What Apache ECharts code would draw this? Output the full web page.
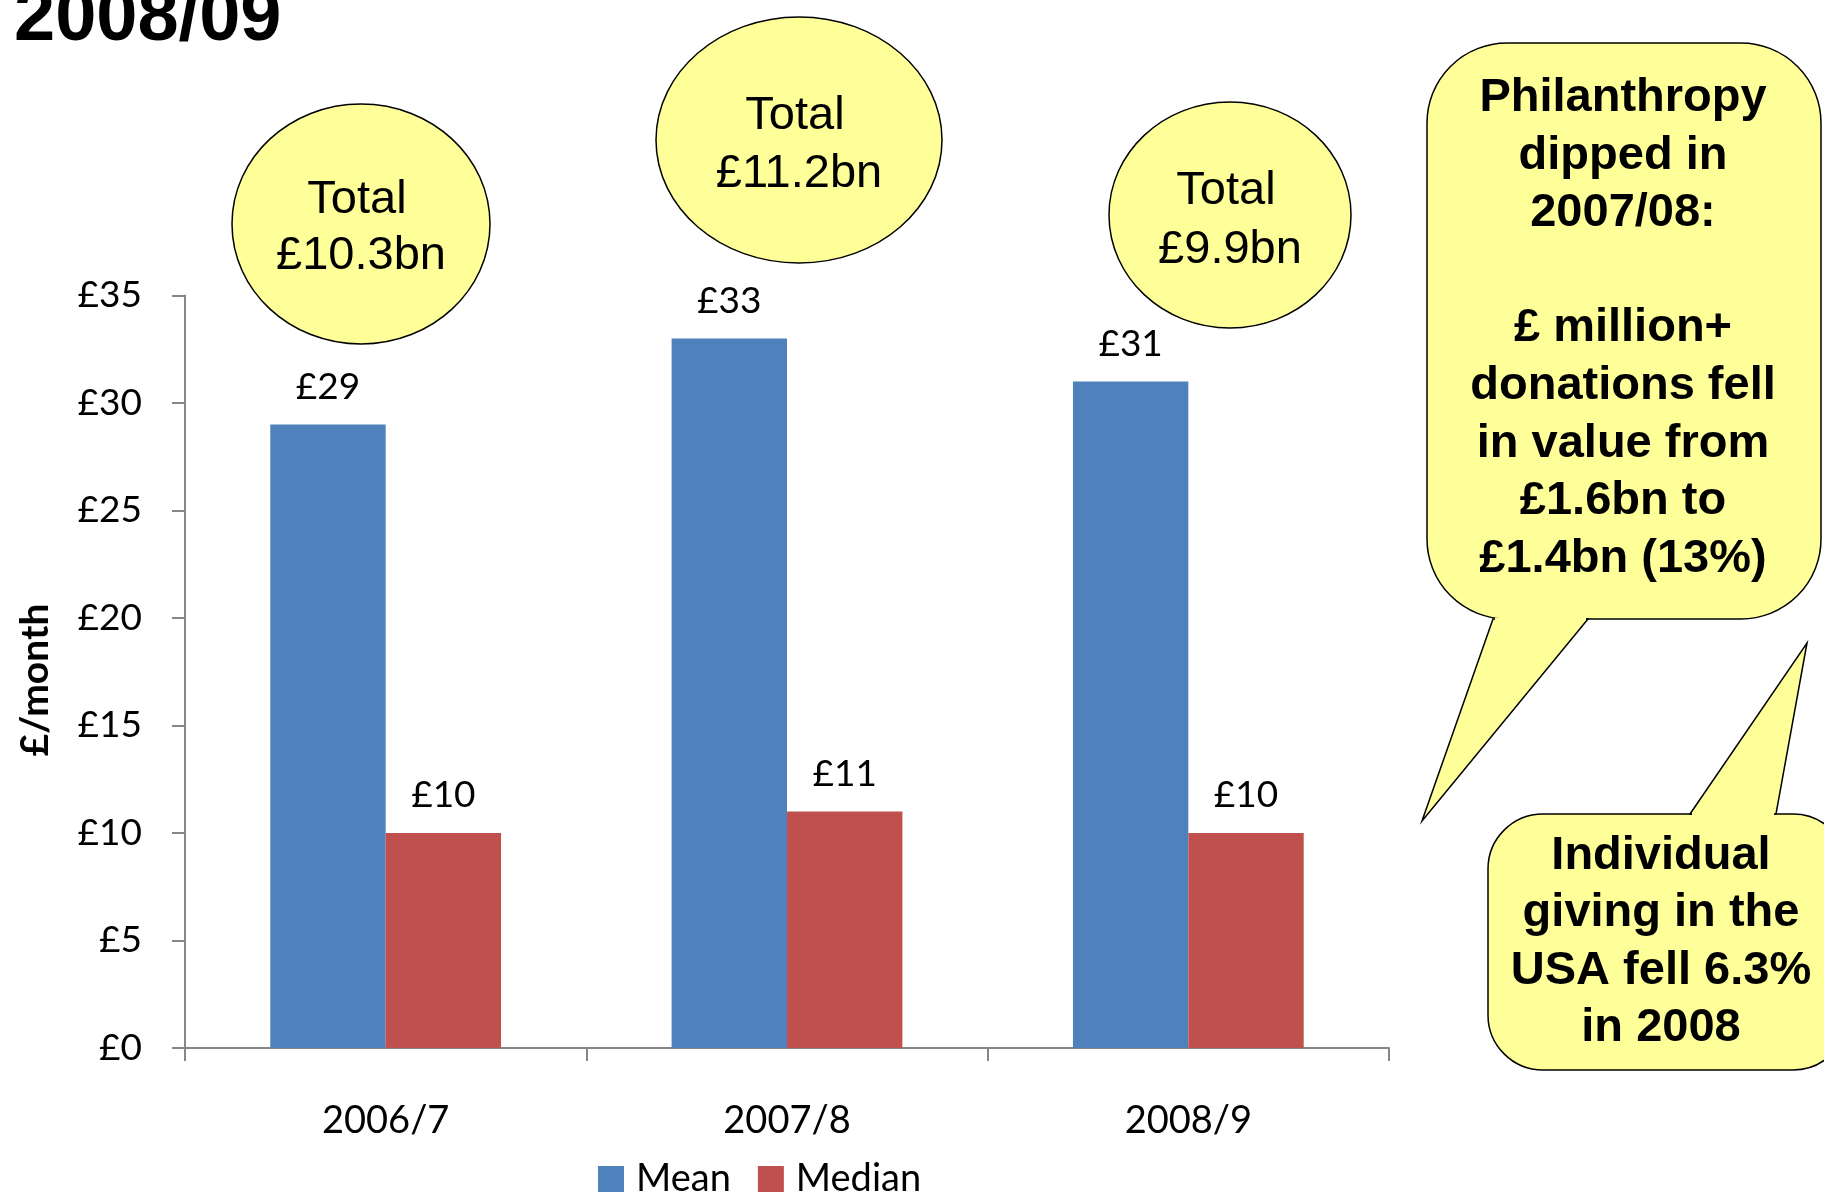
<!DOCTYPE html>
<html><head><meta charset="utf-8">
<script src="https://cdn.jsdelivr.net/npm/echarts@6/dist/echarts.min.js"></script>
<style>html,body{margin:0;padding:0;background:#fff}#c{width:1824px;height:1194px}</style>
</head><body><div id="c"></div>
<script>
const categories = ['2006/7', '2007/8', '2008/9'];
const meanValues = [29, 33, 31];
const medianValues = [10, 11, 10];
const totals = ['£10.3bn', '£11.2bn', '£9.9bn'];
const seriesNames = ['Mean', 'Median'];
const titleText = '2008/09';
const yAxisName = '£/month';
const callout1Lines = ['Philanthropy', 'dipped in', '2007/08:', '', '£ million+', 'donations fell', 'in value from', '£1.6bn to', '£1.4bn (13%)'];
const callout2Lines = ['Individual', 'giving in the', 'USA fell 6.3%', 'in 2008'];

const chart = echarts.init(document.getElementById('c'), null, {renderer: 'canvas'});
const yellow = '#FFFF99';
const ovals = [
  {cx: 361, cy: 224, rx: 129, ry: 120, ty: [200, 256]},
  {cx: 799, cy: 140, rx: 143, ry: 123, ty: [116, 174]},
  {cx: 1230, cy: 215, rx: 121, ry: 113, ty: [191, 250]}
];
const graphics = [];
graphics.push({type: 'text', x: 14, y: 20, style: {text: titleText, font: 'bold 74px "Liberation Sans", Arial', fill: '#000', textAlign: 'left', textVerticalAlign: 'middle'}});
graphics.push({type: 'text', x: 35, y: 680, rotation: Math.PI/2, style: {text: yAxisName, font: 'bold 39px Lato, "Noto Sans"', fill: '#000', textAlign: 'center', textVerticalAlign: 'middle'}});
ovals.forEach((o, i) => {
  graphics.push({type: 'ellipse', shape: {cx: o.cx, cy: o.cy, rx: o.rx, ry: o.ry}, style: {fill: yellow, stroke: '#000', lineWidth: 1.5}, z: 10});
  graphics.push({type: 'text', x: o.cx - 4, y: o.ty[0], z: 11, style: {text: 'Total', font: '47px "Liberation Sans", Arial', fill: '#000', textAlign: 'center', textVerticalAlign: 'middle'}});
  graphics.push({type: 'text', x: o.cx, y: o.ty[1], z: 11, style: {text: totals[i], font: '47px "Liberation Sans", Arial', fill: '#000', textAlign: 'center', textVerticalAlign: 'middle'}});
});
// callout 1: body + tail
graphics.push({type: 'rect', shape: {x: 1427, y: 43, width: 394, height: 576, r: 80}, style: {fill: yellow, stroke: '#000', lineWidth: 1.5}, z: 10});
graphics.push({type: 'polygon', shape: {points: [[1588, 619], [1422, 821], [1493, 619]]}, style: {fill: yellow, stroke: '#000', lineWidth: 1.5}, z: 11});
graphics.push({type: 'line', shape: {x1: 1495, y1: 619, x2: 1586, y2: 619}, style: {stroke: yellow, lineWidth: 3}, z: 12});
callout1Lines.forEach((t, i) => {
  graphics.push({type: 'text', x: 1623, y: 98 + i * 57.6, z: 13, style: {text: t, font: 'bold 47px "Liberation Sans", Arial', fill: '#000', textAlign: 'center', textVerticalAlign: 'middle'}});
});
// callout 2: body + tail
graphics.push({type: 'rect', shape: {x: 1488, y: 814, width: 360, height: 256, r: 55}, style: {fill: yellow, stroke: '#000', lineWidth: 1.5}, z: 10});
graphics.push({type: 'polygon', shape: {points: [[1690, 814], [1807, 643], [1776, 814]]}, style: {fill: yellow, stroke: '#000', lineWidth: 1.5}, z: 11});
graphics.push({type: 'line', shape: {x1: 1692, y1: 814, x2: 1774, y2: 814}, style: {stroke: yellow, lineWidth: 3}, z: 12});
callout2Lines.forEach((t, i) => {
  graphics.push({type: 'text', x: 1661, y: 856 + i * 57.5, z: 13, style: {text: t, font: 'bold 47px "Liberation Sans", Arial', fill: '#000', textAlign: 'center', textVerticalAlign: 'middle'}});
});

const labelStyle = {show: true, position: 'top', distance: 19, formatter: p => '£' + p.value, color: '#000', fontFamily: 'Lato, "Noto Sans"', fontSize: 37};
chart.setOption({
  animation: false,
  backgroundColor: '#fff',
  grid: {left: 185, right: 435, top: 295.5, bottom: 146, containLabel: false},
  legend: {data: seriesNames, left: 593, top: 1155, itemWidth: 26, itemHeight: 26, itemGap: 27, icon: 'rect',
    textStyle: {fontFamily: 'Lato, "Noto Sans"', fontSize: 38, color: '#000', padding: [0, 0, 0, 7]}},
  xAxis: {type: 'category', data: categories,
    axisLine: {lineStyle: {color: '#868686', width: 2}},
    axisTick: {show: true, length: 13, lineStyle: {color: '#868686', width: 2}},
    axisLabel: {color: '#000', fontFamily: 'Lato, "Noto Sans"', fontSize: 38, margin: 54}},
  yAxis: {type: 'value', min: 0, max: 35, interval: 5,
    axisLine: {show: true, lineStyle: {color: '#868686', width: 2}},
    axisTick: {show: true, length: 13, lineStyle: {color: '#868686', width: 2}},
    splitLine: {show: false},
    axisLabel: {color: '#000', fontFamily: 'Lato, "Noto Sans"', fontSize: 37, margin: 43, formatter: v => '£' + v}},
  series: [
    {name: seriesNames[0], type: 'bar', data: meanValues, barGap: '0%', barCategoryGap: '42.5%', itemStyle: {color: '#4F81BD'}, label: labelStyle},
    {name: seriesNames[1], type: 'bar', data: medianValues, itemStyle: {color: '#C0504D'}, label: labelStyle}
  ],
  graphic: graphics
});
</script></body></html>
